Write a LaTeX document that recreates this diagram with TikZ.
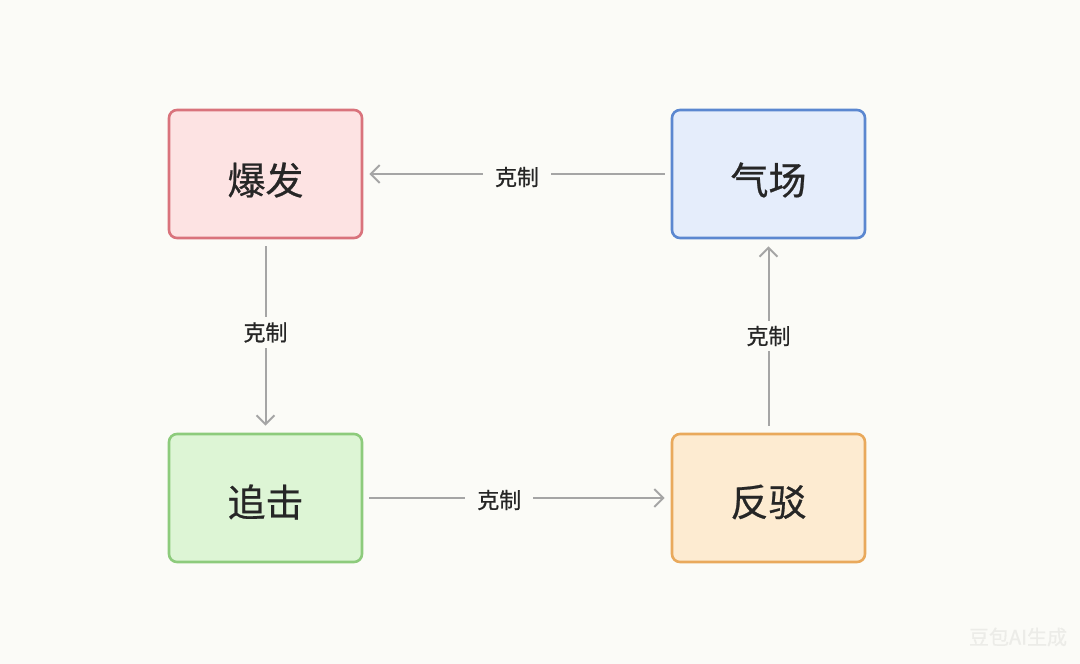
\documentclass[tikz,border=0pt]{standalone}
\usepackage{fontspec}
\newfontfamily\cjk[FakeBold=0.6]{Noto Sans CJK SC}
\usetikzlibrary{arrows.meta}
\definecolor{bg}{HTML}{FBFBF7}
\definecolor{redB}{HTML}{D9737C}
\definecolor{redF}{HTML}{FDE3E3}
\definecolor{blueB}{HTML}{5B87D0}
\definecolor{blueF}{HTML}{E5EDFB}
\definecolor{greenB}{HTML}{8DCB7C}
\definecolor{greenF}{HTML}{DDF5D5}
\definecolor{orangeB}{HTML}{E9A95C}
\definecolor{orangeF}{HTML}{FDEBD1}
\definecolor{lineC}{HTML}{A5A5A5}
\definecolor{wm}{HTML}{ECECE8}
\tikzset{
  box/.style={rounded corners=8pt, line width=2.6pt, minimum width=193pt, minimum height=128pt, text=black!85, inner sep=0pt},
  boxtext/.style={font=\cjk\fontsize{38}{44}\selectfont, text=black!85, inner sep=0pt},
  conn/.style={draw=lineC, line width=2pt, -{Straight Barb[length=9pt,width=18pt,line width=2pt]}},
  lbl/.style={fill=bg, font=\cjk\fontsize{22}{26}\selectfont, text=black!85, inner xsep=12pt, inner ysep=5pt}
}
\begin{document}
\begin{tikzpicture}[x=1pt,y=-1pt]
\useasboundingbox[fill=bg] (0,0) rectangle (1080,664);
\node[box, draw=redB, fill=redF] (bf) at (265.5,174) {};
\node[box, draw=blueB, fill=blueF] (qc) at (768.5,174) {};
\node[box, draw=greenB, fill=greenF] (zj) at (265.5,498) {};
\node[box, draw=orangeB, fill=orangeF] (fb) at (768.5,498) {};
\node[boxtext] (bft) at (265.5,180) {爆发};
\node[boxtext] (qct) at (768.5,180) {气场};
\node[boxtext] (zjt) at (265.5,502) {追击};
\node[boxtext] (fbt) at (768.5,502) {反驳};
\draw[conn] ([xshift=-6pt]qc.west) -- node[lbl, pos=0.5, yshift=-3pt] (l1) {克制} ([xshift=6pt]bf.east);
\draw[conn] ([yshift=-7pt]bf.south) -- node[lbl, pos=0.48] (l2) {克制} ([yshift=7pt]zj.north);
\draw[conn] ([xshift=6pt]zj.east) -- node[lbl, pos=0.44, yshift=-2pt] (l3) {克制} ([xshift=-6pt]fb.west);
\draw[conn] ([yshift=7pt]fb.north) -- node[lbl, pos=0.5] (l4) {克制} ([yshift=-7pt]qc.south);
\node[font=\cjk\fontsize{20}{24}\selectfont, text=wm] (wmk) at (1018,637) {豆包AI生成};
\end{tikzpicture}
\end{document}
